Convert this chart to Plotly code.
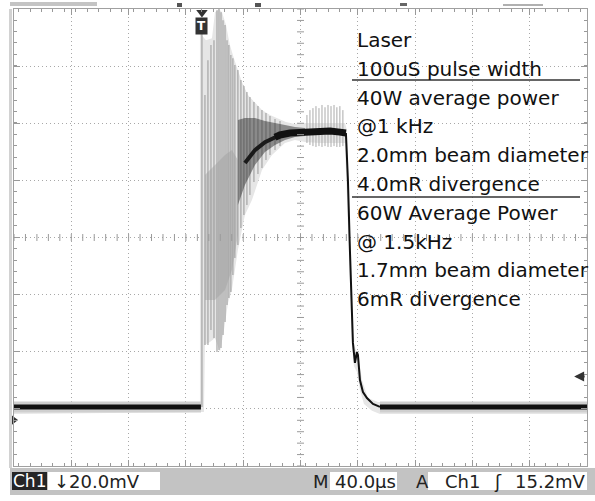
import plotly.graph_objects as go

# ---------------- data (time in microseconds relative to trigger, level in mV) ----------------
# scope settings: 40 us/div, 20 mV/div, 10 x 8 divisions
T_RANGE = [-131.2, 268.8]
V_RANGE = [-16.1, 143.9]
TRIGGER_LEVEL_MV = 15.2

# grey persistence envelope of the pulse (upper and lower edge)
env_up_t = [-131.2, -1.4, -1.4, 2.8, 7.0, 9.1, 11.9, 14.0, 16.8, 19.5, 22.3, 25.1, 27.9, 32.1, 37.0,
            41.9, 47.5, 53.1, 58.6, 64.9, 68.4, 72.6, 78.9, 98.4, 99.8, 101.2, 103.3, 105.4, 107.5,
            109.6, 111.7, 115.9, 122.9, 268.8]
env_up_v = [6.3, 6.3, 135.5, 133.0, 133.7, 142.8, 143.9, 142.8, 138.3, 131.3, 126.7, 122.5, 118.3, 113.8, 111.3,
            108.5, 106.8, 105.4, 104.3, 103.6, 104.0, 104.0, 104.0, 104.0, 104.0, 101.5, 63.0, 28.0, 24.5,
            21.0, 14.0, 7.7, 6.3, 6.3]
env_lo_t = [-131.2, 1.4, 2.1, 5.6, 9.1, 12.6, 15.4, 18.2, 20.9, 25.1, 30.0, 34.9, 41.9, 48.9, 57.9,
            64.9, 71.9, 82.4, 96.3, 99.8, 102.6, 104.7, 106.1, 108.2, 110.3, 113.1, 118.7, 124.3, 268.8]
env_lo_v = [2.1, 2.8, 26.3, 27.3, 28.7, 23.8, 31.5, 41.0, 45.5, 59.5, 71.8, 77.0, 87.5, 92.8, 97.0,
            98.0, 97.3, 97.0, 97.0, 97.0, 59.5, 26.3, 18.9, 16.8, 10.5, 5.6, 3.2, 2.1, 2.1]

# dense grey region of the ringing
dense_t = [2.1, 9.1, 16.1, 20.9, 25.1]
dense_hi = [85.8, 89.3, 92.8, 94.5, 91.0]
dense_lo = [42.0, 42.0, 45.5, 52.5, 64.8]

# dark overlapping region where the ringing settles
dark_t = [25.1, 30.0, 37.0, 44.0, 51.0, 58.0, 64.9, 71.9]
dark_hi = [105.0, 105.7, 105.7, 104.7, 104.0, 103.3, 102.6, 102.2]
dark_lo = [75.3, 82.3, 89.3, 93.8, 96.3, 98.0, 99.1, 99.4]

# individual ringing excursions (top and bottom of each visible stroke)
ring_t = [0.0, 2.1, 4.2, 6.3, 8.4, 10.5, 11.9, 13.3, 14.7, 16.1, 17.5, 18.8, 20.2, 21.6, 23.0,
          25.1, 27.2, 29.3, 31.4, 33.5, 36.3, 39.1, 41.9, 44.7, 47.5, 51.0, 54.5]
ring_top = [135.5, 113.8, 126.0, 131.3, 133.0, 143.5, 143.9, 142.8, 140.0, 138.3, 133.0, 131.3, 127.8, 126.7, 124.3,
            122.5, 119.0, 116.9, 114.8, 113.1, 111.3, 109.9, 108.5, 107.5, 106.4, 105.4, 104.7]
ring_bot = [4.6, 26.3, 26.3, 31.5, 28.7, 23.8, 24.5, 25.2, 29.8, 34.3, 40.3, 42.7, 44.8, 50.8, 56.7,
            61.3, 67.2, 71.8, 75.3, 78.8, 83.3, 86.1, 88.2, 91.0, 92.8, 94.5, 95.9]

# noise spikes on the plateau
plat_t = [73.3, 75.4, 77.5, 79.6, 81.7, 83.8, 85.9, 88.0, 90.1, 92.2, 94.2, 96.3, 98.4]
plat_top = [106.8, 108.5, 109.2, 109.9, 109.2, 110.3, 109.5, 110.3, 109.9, 110.3, 109.5, 109.9, 108.5]
plat_bot = [97.0, 96.3, 95.9, 95.6, 95.9, 95.6, 95.9, 95.6, 95.6, 95.9, 95.6, 95.6, 95.9]

# black trace: settling part and plateau
settle_t = [30.0, 37.0, 44.0, 51.0, 54.5]
settle_v = [90.0, 94.5, 97.3, 99.0, 99.8]
core_t = [51.0, 54.5, 61.4, 68.4, 75.4, 82.4, 89.4, 96.3, 100.5]
core_v = [99.0, 99.8, 100.5, 100.8, 101.0, 101.2, 101.2, 100.8, 100.5]

# falling edge
fall_t = [100.5, 101.9, 103.3, 105.4, 106.8, 108.2, 108.9, 110.3, 112.4, 115.2, 119.4, 124.3]
fall_v = [100.5, 84.0, 59.5, 27.0, 20.0, 23.8, 22.8, 14.0, 9.8, 7.7, 5.6, 4.6]

# baseline before and after the pulse
base_pre_t = [-131.2, -0.7]
base_post_t = [124.3, 268.8]
base_v = 4.6

note_lines = ["Laser", "100uS pulse width", "40W average power", "@1 kHz",
              "2.0mm beam diameter", "4.0mR divergence", "60W Average Power",
              "@ 1.5kHz", "1.7mm beam diameter", "6mR divergence"]

status = {"ch": "Ch1", "scale": "↓20.0mV", "M": "M", "time": "40.0µs",
          "A": "A", "src": "Ch1", "slope": "ʃ", "level": "15.2mV"}

# ---------------- layout helpers (pixel -> paper) ----------------
L, R, T, B = 14, 587, 9, 466
def px(x):
    return (x - L) / (R - L)
def py(y):
    return (B - y) / (B - T)

fig = go.Figure()

def strokes(ts, tops, bots):
    xs, ys = [], []
    for t, a, b in zip(ts, tops, bots):
        xs += [t, t, None]
        ys += [b, a, None]
    return xs, ys

# envelope
fig.add_trace(go.Scatter(x=env_up_t + env_lo_t[::-1], y=env_up_v + env_lo_v[::-1],
                         fill="toself", fillcolor="#e6e6e6", line=dict(width=0),
                         mode="lines", hoverinfo="skip", showlegend=False))
fig.add_trace(go.Scatter(x=dense_t + dense_t[::-1], y=dense_hi + dense_lo[::-1],
                         fill="toself", fillcolor="#c6c6c6", line=dict(width=0),
                         mode="lines", hoverinfo="skip", showlegend=False))
# ringing strokes and plateau noise
rx, ry = strokes(ring_t, ring_top, ring_bot)
fig.add_trace(go.Scatter(x=rx, y=ry, mode="lines", line=dict(color="#9e9e9e", width=1.1),
                         hoverinfo="skip", showlegend=False))
sx, sy = strokes(plat_t, plat_top, plat_bot)
fig.add_trace(go.Scatter(x=sx, y=sy, mode="lines", line=dict(color="#aaaaaa", width=1),
                         hoverinfo="skip", showlegend=False))
fig.add_trace(go.Scatter(x=dark_t + dark_t[::-1], y=dark_hi + dark_lo[::-1],
                         fill="toself", fillcolor="rgba(45,45,45,0.5)", line=dict(width=0),
                         mode="lines", hoverinfo="skip", showlegend=False))
# baseline fuzz + line
for bt in (base_pre_t, base_post_t):
    fig.add_trace(go.Scatter(x=bt, y=[base_v, base_v], mode="lines",
                             line=dict(color="#cfcfcf", width=11), hoverinfo="skip", showlegend=False))
    fig.add_trace(go.Scatter(x=bt, y=[base_v, base_v], mode="lines",
                             line=dict(color="#111111", width=5), hoverinfo="skip", showlegend=False))
fig.add_trace(go.Scatter(x=settle_t, y=settle_v, mode="lines", line=dict(color="#1a1a1a", width=4),
                         hoverinfo="skip", showlegend=False))
fig.add_trace(go.Scatter(x=core_t, y=core_v, mode="lines", line=dict(color="#111111", width=7),
                         hoverinfo="skip", showlegend=False))
fig.add_trace(go.Scatter(x=fall_t, y=fall_v, mode="lines", line=dict(color="#111111", width=2),
                         hoverinfo="skip", showlegend=False))

# center crosshair ticks
cx = (T_RANGE[0] + T_RANGE[1]) / 2
cy = (V_RANGE[0] + V_RANGE[1]) / 2
xt = [T_RANGE[0] + 8 * k for k in range(51)]
yt = [V_RANGE[0] + 4 * k for k in range(41)]
fig.add_trace(go.Scatter(x=xt, y=[cy] * len(xt), mode="markers",
                         marker=dict(symbol="line-ns-open", size=5, color="#9a9a9a",
                                     line=dict(color="#9a9a9a", width=1)),
                         hoverinfo="skip", showlegend=False))
fig.add_trace(go.Scatter(x=[cx] * len(yt), y=yt, mode="markers",
                         marker=dict(symbol="line-ew-open", size=5, color="#9a9a9a",
                                     line=dict(color="#9a9a9a", width=1)),
                         hoverinfo="skip", showlegend=False))

# markers: trigger position, ground reference
fig.add_trace(go.Scatter(x=[0], y=[V_RANGE[1] - 1.2], mode="markers",
                         marker=dict(symbol="triangle-down", size=10, color="#333333"),
                         cliponaxis=False, hoverinfo="skip", showlegend=False))
fig.add_trace(go.Scatter(x=[T_RANGE[0]], y=[0], mode="markers",
                         marker=dict(symbol="triangle-right", size=8, color="#333333"),
                         cliponaxis=False, hoverinfo="skip", showlegend=False))

ann = []
ann.append(dict(x=0, y=py(26), xref="x", yref="paper", text="<b>T</b>", showarrow=False,
                font=dict(family="DejaVu Sans", size=12, color="white"), bgcolor="#333333",
                borderpad=1, xanchor="center", yanchor="middle"))
# trigger level arrow
ann.append(dict(x=T_RANGE[1] - 9, y=TRIGGER_LEVEL_MV, ax=12, ay=0, xref="x", yref="y", text="",
                showarrow=True, arrowhead=2, arrowsize=1, arrowwidth=2, arrowcolor="#333333"))
# notes
for i, line in enumerate(note_lines):
    ann.append(dict(x=px(355), y=py(40 + 28.8 * i), xref="paper", yref="paper", text=line,
                    showarrow=False, xanchor="left", yanchor="middle",
                    font=dict(family="DejaVu Sans", size=20, color="#111111")))
# status bar text
sfont = dict(family="DejaVu Sans", size=18, color="#222222")
ty = py(481)
ann.append(dict(x=px(29.5), y=ty, xref="paper", yref="paper", text=status["ch"], showarrow=False,
                xanchor="center", yanchor="middle",
                font=dict(family="DejaVu Sans", size=17, color="white")))
for key, xx in (("scale", 52), ("time", 333), ("src", 443), ("slope", 492), ("level", 513)):
    ann.append(dict(x=px(xx), y=ty, xref="paper", yref="paper", text=status[key], showarrow=False,
                    xanchor="left", yanchor="middle", font=sfont))
for key, xx in (("M", 321), ("A", 422)):
    ann.append(dict(x=px(xx), y=ty, xref="paper", yref="paper", text=status[key], showarrow=False,
                    xanchor="center", yanchor="middle", font=sfont))

shapes = []
def rect(x0, y0, x1, y1, color, layer="above"):
    shapes.append(dict(type="rect", xref="paper", yref="paper", x0=px(x0), x1=px(x1),
                       y0=py(y0), y1=py(y1), fillcolor=color, line=dict(width=0), layer=layer))
rect(10, 468, 595, 495, "#c3c3c3")
rect(12, 472, 47, 490, "#262626")
rect(48, 472, 160, 490, "white")
rect(330, 472, 397, 490, "white")
rect(428, 472, 587, 490, "white")
rect(9, 9, 12, 468, "#d2d2d2", "below")
rect(10, 2, 97, 6, "#c4c4c4")
rect(177, 3, 182, 7, "#555555")
rect(255, 3, 261, 7, "#555555")
rect(400, 3, 407, 6, "#666666")
rect(503, 4, 543, 6, "#b0b0b0")
for yy in (80, 197):
    shapes.append(dict(type="line", xref="paper", yref="paper", x0=px(352), x1=px(580),
                       y0=py(yy), y1=py(yy), line=dict(color="#333333", width=1.5)))

axis_common = dict(showticklabels=False, showgrid=True, gridcolor="#a8a8a8", griddash="1px,3px",
                   gridwidth=1, zeroline=False, showline=True, linecolor="#a0a0a0", linewidth=1,
                   mirror="ticks", ticks="inside", ticklen=6, tickcolor="#999999")
fig.update_layout(
    width=595, height=501,
    margin=dict(l=L, r=595 - R, t=T, b=501 - B),
    paper_bgcolor="white", plot_bgcolor="white",
    xaxis=dict(range=T_RANGE, tick0=T_RANGE[0], dtick=40,
               minor=dict(dtick=8, ticks="inside", ticklen=3, tickcolor="#999999", showgrid=False),
               **axis_common),
    yaxis=dict(range=V_RANGE, tick0=V_RANGE[0], dtick=20,
               minor=dict(dtick=4, ticks="inside", ticklen=3, tickcolor="#999999", showgrid=False),
               **axis_common),
    annotations=ann, shapes=shapes, showlegend=False,
)
fig.write_html("out.html")
